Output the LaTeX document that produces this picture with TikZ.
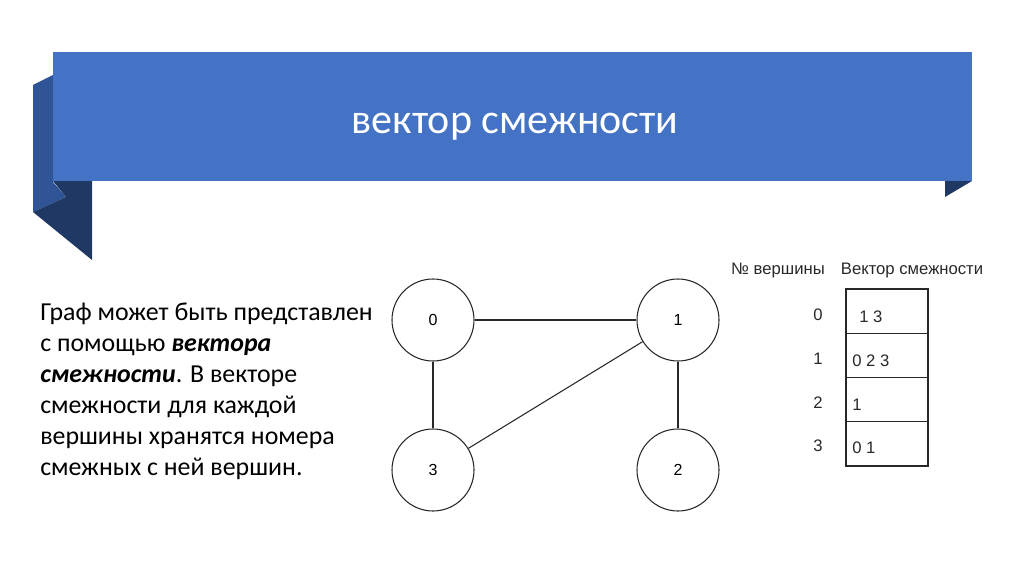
\documentclass[tikz,border=0pt]{standalone}
\usepackage{fontspec}
\setmainfont{Carlito}
\newfontfamily\tabfont{Liberation Sans}
\definecolor{bannerblue}{RGB}{68,114,196}
\definecolor{foldblue}{RGB}{47,85,151}
\definecolor{foldnavy}{RGB}{32,56,100}
\definecolor{inkgray}{RGB}{40,40,40}
\tikzset{
  vertex/.style={draw=inkgray, line width=0.8pt, circle, minimum size=61.5pt, inner sep=0pt, font=\tabfont\fontsize{12}{14}\selectfont},
  edge/.style={draw=inkgray, line width=0.8pt},
  cellbox/.style={draw=inkgray, line width=0.8pt},
  tabtext/.style={font=\tabfont\fontsize{12.5}{14}\selectfont, text=inkgray, inner sep=0pt}
}
\begin{document}
\begin{tikzpicture}[x=0.75pt,y=-0.75pt]
  \useasboundingbox (0,0) rectangle (1024,574);
  % ribbon banner
  \fill[foldblue] (33,85) -- (53,75) -- (53,182) -- (66,197) -- (33,212) -- cycle;
  \fill[foldnavy] (53,181) -- (92,181) -- (92,260) -- (33,212) -- (66,197) -- cycle;
  \fill[foldnavy] (945,181) -- (972,181) -- (945,197) -- cycle;
  \fill[bannerblue] (53,52) rectangle (972,181);
  \node[text=white, font=\fontsize{31.5}{38}\selectfont] (title) at (515,127) {вектор смежности};

  % text on the left
  \node[anchor=north west, align=left, inner sep=0pt, font=\fontsize{19.4}{23.2}\selectfont] (intro) at (40,303)
    {Граф может быть представлен\\
     с помощью \textbf{\textit{вектора}}\\
     \textbf{\textit{смежности}}. В векторе\\
     смежности для каждой\\
     вершины хранятся номера\\
     смежных с ней вершин.};

  % graph
  \node[vertex] (v0) at (433,320) {0};
  \node[vertex] (v1) at (678,320) {1};
  \node[vertex] (v2) at (678,470) {2};
  \node[vertex] (v3) at (433,470) {3};
  \draw[edge] (v0) -- (v1);
  \draw[edge] (v0) -- (v3);
  \draw[edge] (v1) -- (v2);
  \draw[edge] (v1) -- (v3);

  % adjacency vector table
  \node[tabtext] (headnum) at (778,270) {№ вершины};
  \node[tabtext] (headadj) at (912,270) {Вектор смежности};
  \foreach \i/\xa/\adj in {0/859/1 3, 1/852/0 2 3, 2/852/1, 3/852/0 1} {
    \draw[cellbox] (846,289+44.25*\i) rectangle (928,333.25+44.25*\i);
    \node[tabtext] (num\i) at (818,315+43.7*\i) {\i};
    \node[tabtext, anchor=west] (adj\i) at (\xa,317+43.7*\i) {\adj};
  }
\end{tikzpicture}
\end{document}
